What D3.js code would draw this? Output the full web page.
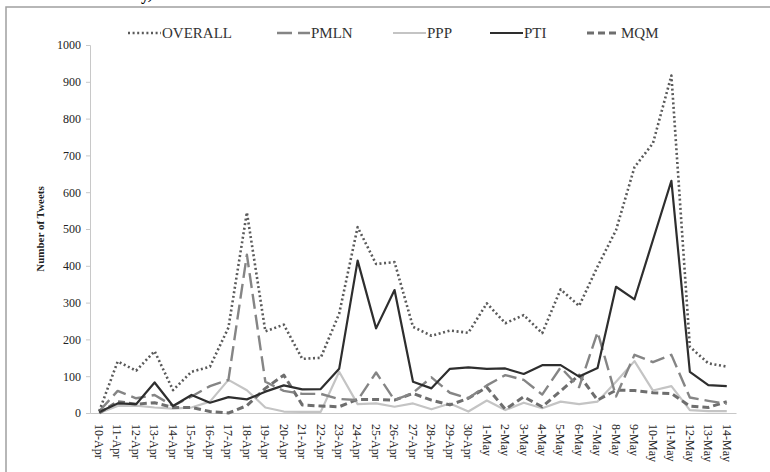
<!DOCTYPE html>
<html>
<head>
<meta charset="utf-8">
<script src="https://cdn.jsdelivr.net/npm/d3@7"></script>
<style>
  body { margin: 0; background: #fff; }
  text { font-family: "Liberation Serif", "Times New Roman", serif; }
</style>
</head>
<body>
<div id="chart"></div>
<script>
// data
const dates = ['10-Apr','11-Apr','12-Apr','13-Apr','14-Apr','15-Apr','16-Apr','17-Apr','18-Apr','19-Apr',
  '20-Apr','21-Apr','22-Apr','23-Apr','24-Apr','25-Apr','26-Apr','27-Apr','28-Apr','29-Apr','30-Apr',
  '1-May','2-May','3-May','4-May','5-May','6-May','7-May','8-May','9-May','10-May','11-May','12-May','13-May','14-May'];

const overall = [5,140,115,168,62,112,126,232,545,222,240,147,150,270,505,405,410,234,210,224,218,
  298,244,266,217,336,291,398,497,668,733,917,180,135,126];
const pmln = [5,60,40,49,19,45,73,90,430,85,60,52,52,38,35,110,35,55,97,55,40,
  75,103,90,50,124,70,220,45,158,138,158,42,33,25];
const ppp = [0,19,20,15,12,15,31,90,62,15,4,3,3,112,24,26,17,26,10,26,4,
  34,8,28,13,31,24,31,85,141,61,73,8,5,5];
const pti = [3,26,24,83,19,49,28,43,37,58,75,64,65,120,414,230,334,85,67,120,124,
  120,121,106,130,130,99,122,343,309,470,631,112,76,73];
const mqm = [0,31,24,28,15,15,4,0,20,67,103,22,19,17,37,37,35,53,35,22,40,
  70,10,44,17,60,103,35,62,61,55,53,19,15,31];

const yTicks = [0,100,200,300,400,500,600,700,800,900,1000];

const series = [
  { name: 'OVERALL', values: overall, color: '#5a5a5a', width: 2.6, dash: '2,2.6', legendLabel: 'OVERALL' },
  { name: 'PMLN', values: pmln, color: '#858585', width: 2.4, dash: '15,6', legendLabel: 'PMLN' },
  { name: 'PPP', values: ppp, color: '#c4c4c4', width: 2.2, dash: null, legendLabel: 'PPP' },
  { name: 'PTI', values: pti, color: '#2e2e2e', width: 2.2, dash: null, legendLabel: 'PTI' },
  { name: 'MQM', values: mqm, color: '#6e6e6e', width: 3, dash: '7,4', legendLabel: 'MQM' }
];

const W = 770, H = 472;
const PLOT = { left: 90, right: 736, top: 45, bottom: 413 };

const svg = d3.select('#chart').append('svg')
  .attr('width', W)
  .attr('height', H);

svg.append('rect').attr('width', W).attr('height', H).attr('fill', '#fff');

// cut-off text from the page above
svg.append('text')
  .attr('x', 141).attr('y', 0)
  .attr('font-size', 16).attr('font-weight', 'bold')
  .text('y,');

// outer frame
svg.append('rect')
  .attr('x', 6).attr('y', 7)
  .attr('width', W + 20).attr('height', H + 20)
  .attr('fill', 'none')
  .attr('stroke', '#a0a0a0')
  .attr('stroke-width', 1.5);

const x = d3.scaleBand()
  .domain(dates)
  .range([PLOT.left, PLOT.right]);

const y = d3.scaleLinear()
  .domain([0, 1000])
  .range([PLOT.bottom, PLOT.top]);

// y axis
const yAxis = svg.append('g')
  .attr('transform', `translate(${PLOT.left},0)`)
  .call(d3.axisLeft(y).tickValues(yTicks).tickSize(4).tickPadding(5).tickFormat(d3.format('d')));
yAxis.selectAll('path, line').attr('stroke', '#c8c8c8');
yAxis.selectAll('text')
  .attr('font-family', '"Liberation Serif", serif')
  .attr('font-size', 12)
  .attr('fill', '#222');

// x axis
const xAxis = svg.append('g')
  .attr('transform', `translate(0,${PLOT.bottom})`)
  .call(d3.axisBottom(x).tickSize(0).tickPadding(0));
xAxis.select('path').attr('stroke', '#c8c8c8').attr('stroke-width', 1.2);
xAxis.selectAll('text')
  .attr('font-family', '"Liberation Serif", serif')
  .attr('font-size', 12)
  .attr('fill', '#222')
  .attr('text-anchor', 'start')
  .attr('dy', '0.35em')
  .attr('transform', 'translate(0,11) rotate(90)')
  .attr('y', 0).attr('x', 0);

// y axis title
svg.append('text')
  .attr('transform', `translate(44,${(PLOT.top + PLOT.bottom) / 2}) rotate(-90)`)
  .attr('text-anchor', 'middle')
  .attr('font-size', 11)
  .attr('font-weight', 'bold')
  .attr('fill', '#222')
  .text('Number of Tweets');

// lines
const lineGen = d3.line()
  .x((d, i) => x(dates[i]) + x.bandwidth() / 2)
  .y(d => y(d));

const drawOrder = ['PPP', 'MQM', 'PMLN', 'PTI', 'OVERALL'];
drawOrder.forEach(name => {
  const s = series.find(k => k.name === name);
  svg.append('path')
    .datum(s.values)
    .attr('d', lineGen)
    .attr('fill', 'none')
    .attr('stroke', s.color)
    .attr('stroke-width', s.width)
    .attr('stroke-linejoin', 'round')
    .attr('stroke-dasharray', s.dash);
});

// legend
const legendX = [128, 277, 393, 490, 587];
const legend = svg.append('g').attr('transform', 'translate(0,33)');
series.forEach((s, i) => {
  const g = legend.append('g').attr('transform', `translate(${legendX[i]},0)`);
  g.append('line')
    .attr('x1', 0).attr('x2', 33)
    .attr('y1', 0).attr('y2', 0)
    .attr('stroke', s.color)
    .attr('stroke-width', s.width)
    .attr('stroke-dasharray', s.dash);
  g.append('text')
    .attr('x', 34).attr('y', 5)
    .attr('font-size', 15)
    .attr('fill', '#333')
    .text(s.legendLabel);
});
</script>
</body>
</html>
